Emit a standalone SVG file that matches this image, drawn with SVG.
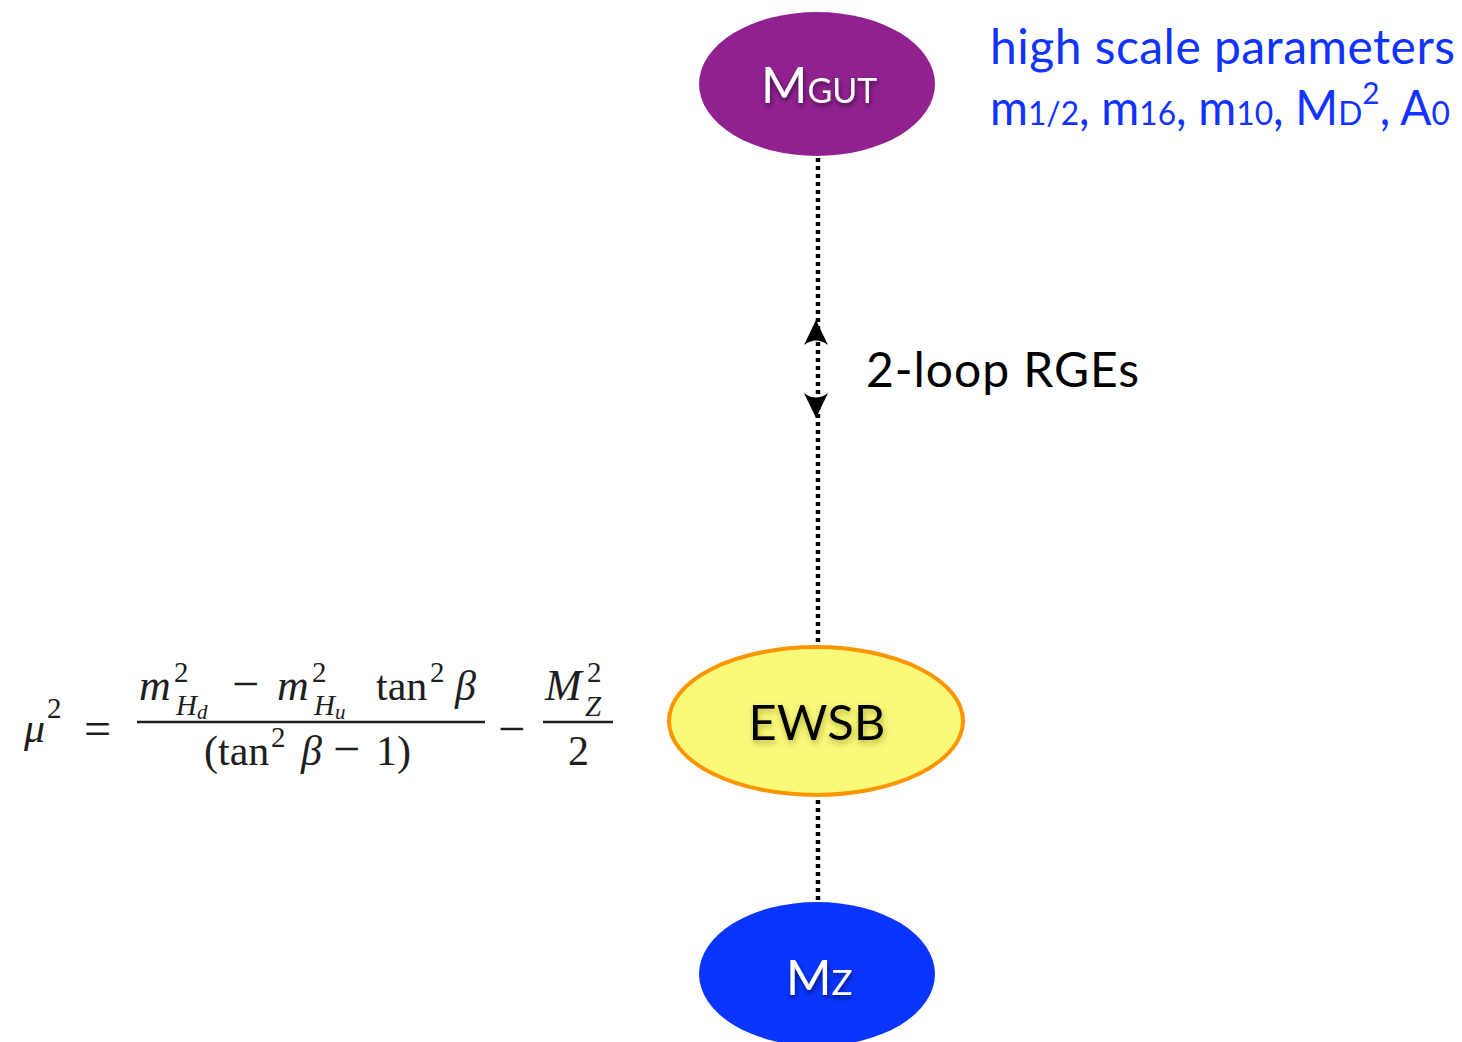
<svg xmlns="http://www.w3.org/2000/svg" width="1462" height="1042" viewBox="0 0 1462 1042">
  <defs>
    <style>
      .sans { font-family: Lato, "Open Sans", "Liberation Sans", sans-serif; }
      .serif { font-family: "Liberation Serif", "DejaVu Serif", serif; fill: #1e1e1e; }
      .it { font-style: italic; }
      .link { stroke: #000; stroke-width: 4.5; stroke-dasharray: 4 4; fill: none; }
      .label-blue { fill: #1033ff; font-size: 48px; }
      .sub { font-size: 33px; }
    </style>
    <filter id="shadow" x="-20%" y="-40%" width="140%" height="180%">
      <feDropShadow dx="1" dy="3" stdDeviation="2.5" flood-color="#000" flood-opacity="0.55"/>
    </filter>
    <filter id="softShadow" x="-20%" y="-40%" width="140%" height="180%">
      <feDropShadow dx="1" dy="3" stdDeviation="3" flood-color="#6a6a00" flood-opacity="0.5"/>
    </filter>
  </defs>

  <rect width="1462" height="1042" fill="#ffffff"/>

  <!-- connectors -->
  <g id="connectors">
    <line class="link" x1="818" y1="158" x2="818" y2="642"/>
    <line class="link" x1="818" y1="800" x2="818" y2="900"/>
    <!-- double-headed arrow for the RG running -->
    <path d="M816,320 L828,345 Q816,336 804,345 Z" fill="#000"/>
    <path d="M816,418 L828,393 Q816,402 804,393 Z" fill="#000"/>
  </g>

  <!-- GUT scale node -->
  <g id="node-mgut">
    <ellipse cx="817" cy="84" rx="118" ry="72" fill="#912191"/>
    <text class="sans" x="761" y="103" fill="#fff" filter="url(#shadow)"><tspan font-size="50">M</tspan><tspan font-size="34">GUT</tspan></text>
  </g>

  <!-- high scale parameter label -->
  <g id="label-params" class="sans label-blue">
    <text x="990" y="64" textLength="465" lengthAdjust="spacing">high scale parameters</text>
    <text x="990" y="125" textLength="460" lengthAdjust="spacingAndGlyphs">m<tspan class="sub">1/2</tspan>, m<tspan class="sub">16</tspan>, m<tspan class="sub">10</tspan>, M<tspan class="sub">D</tspan><tspan font-size="31" dy="-21">2</tspan><tspan dy="21">, A</tspan><tspan class="sub">0</tspan></text>
  </g>

  <!-- RGE label -->
  <g id="label-rge">
    <text class="sans" x="866" y="387" font-size="48" fill="#000" textLength="273" lengthAdjust="spacing">2-loop RGEs</text>
  </g>

  <!-- electroweak symmetry breaking node -->
  <g id="node-ewsb">
    <ellipse cx="816" cy="721" rx="147" ry="74" fill="#fbf97a" stroke="#fb9500" stroke-width="4"/>
    <text class="sans" x="817" y="740" font-size="49" fill="#000" text-anchor="middle" filter="url(#softShadow)">EWSB</text>
  </g>

  <!-- Z mass node -->
  <g id="node-mz">
    <ellipse cx="817" cy="974" rx="118" ry="72" fill="#0a35ff"/>
    <text class="sans" x="786" y="995" fill="#fff" filter="url(#shadow)"><tspan font-size="49">M</tspan><tspan font-size="35">Z</tspan></text>
  </g>

  <!-- EWSB condition -->
  <g id="formula" class="serif">
    <text x="24" y="742" font-size="42" class="it">μ</text>
    <text x="47" y="718" font-size="29">2</text>
    <text x="84" y="745" font-size="48">=</text>
    <!-- numerator -->
    <text x="139" y="700" font-size="44" class="it">m</text>
    <text x="174" y="682" font-size="29">2</text>
    <text x="176" y="715" font-size="29" class="it">H<tspan font-size="21" dy="4">d</tspan></text>
    <text x="232" y="700" font-size="48">−</text>
    <text x="277" y="700" font-size="44" class="it">m</text>
    <text x="312" y="682" font-size="29">2</text>
    <text x="314" y="715" font-size="29" class="it">H<tspan font-size="21" dy="4">u</tspan></text>
    <text x="376" y="700" font-size="42">tan</text>
    <text x="430" y="682" font-size="29">2</text>
    <text x="455" y="700" font-size="42" class="it">β</text>
    <line x1="137" y1="722" x2="485" y2="722" stroke="#1e1e1e" stroke-width="2.5"/>
    <!-- denominator -->
    <text x="204" y="765" font-size="42">(tan</text>
    <text x="271" y="747" font-size="29">2</text>
    <text x="301" y="765" font-size="42" class="it">β</text>
    <text x="333" y="765" font-size="48">−</text>
    <text x="376" y="765" font-size="42">1)</text>
    <text x="498" y="745" font-size="48">−</text>
    <!-- M_Z^2 / 2 -->
    <text x="545" y="700" font-size="44" class="it">M</text>
    <text x="587" y="682" font-size="29">2</text>
    <text x="585" y="716" font-size="29" class="it">Z</text>
    <line x1="543" y1="722" x2="613" y2="722" stroke="#1e1e1e" stroke-width="2.5"/>
    <text x="568" y="765" font-size="42">2</text>
  </g>
</svg>
